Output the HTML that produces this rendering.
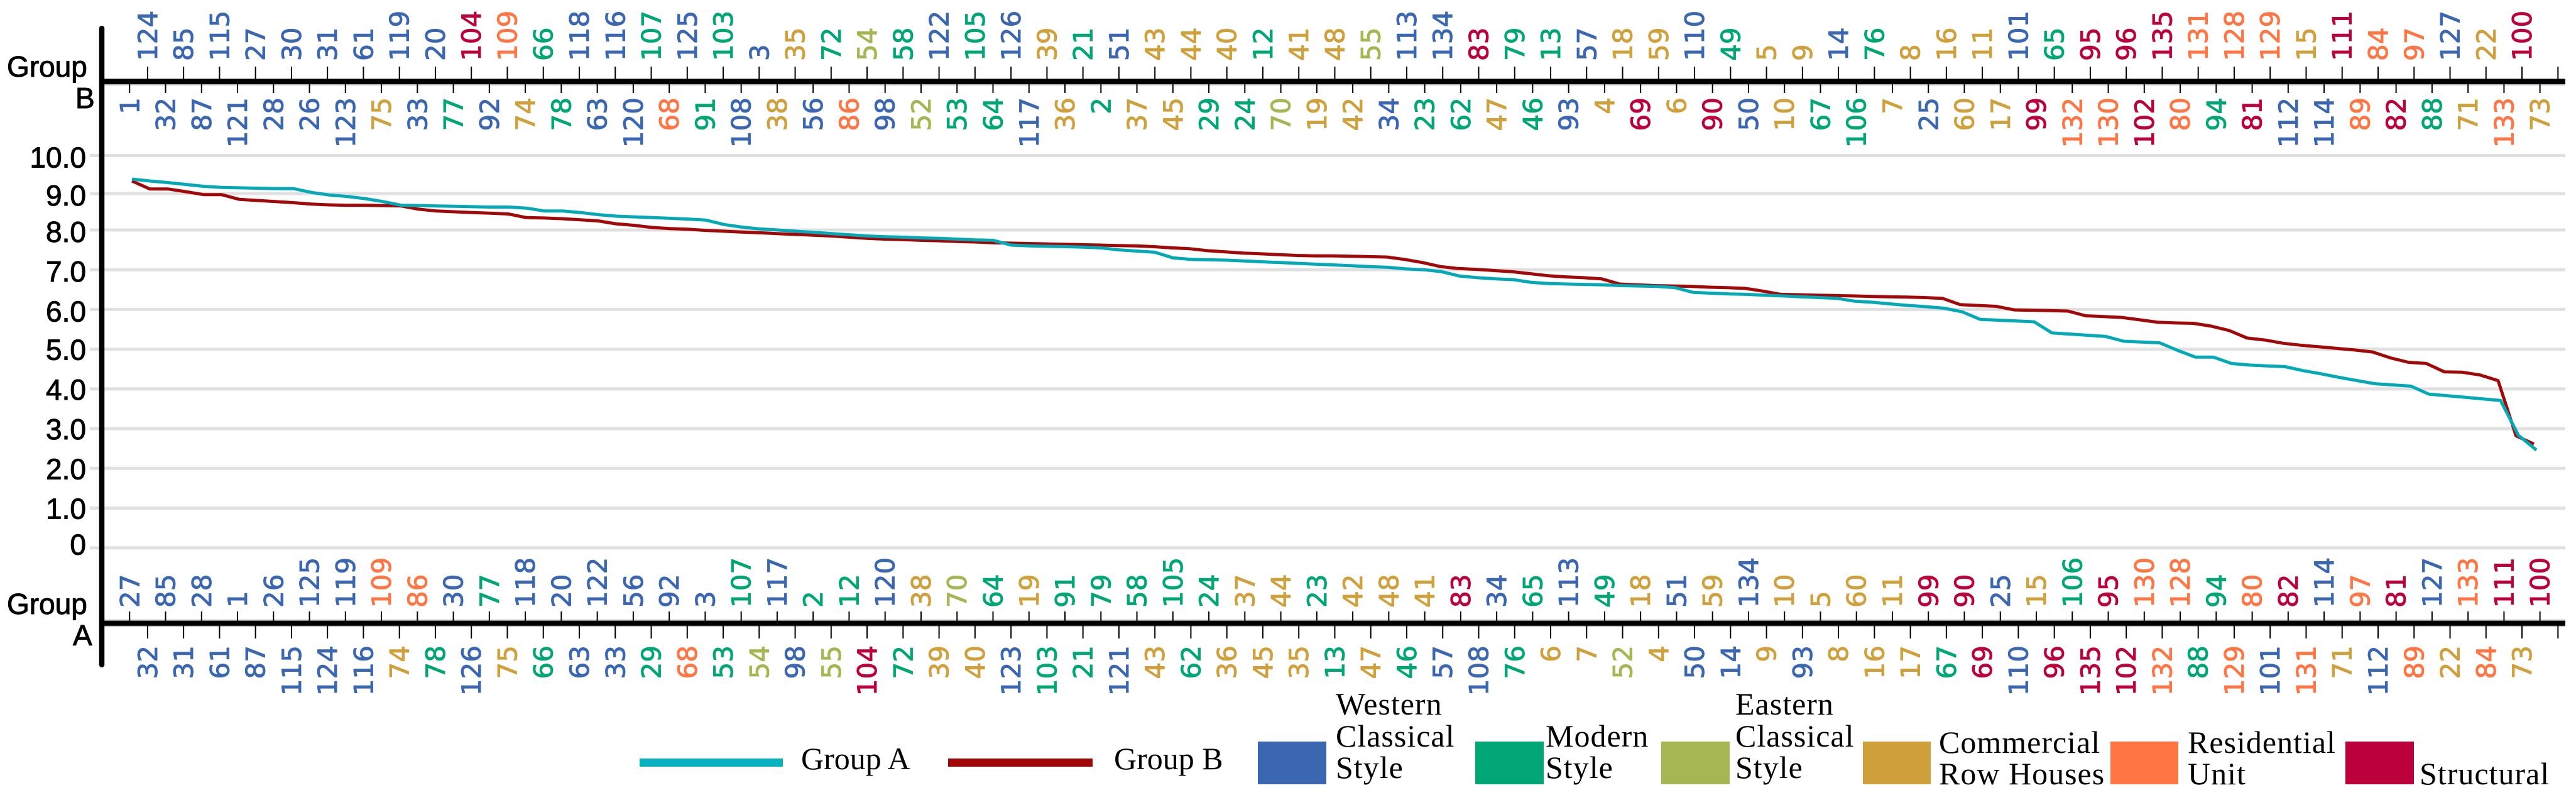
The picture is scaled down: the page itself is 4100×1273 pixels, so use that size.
<!DOCTYPE html>
<html lang="en">
<head>
<meta charset="utf-8">
<title>Group A and Group B ranked scores</title>
<style>
html,body{margin:0;padding:0;background:#fff;width:4100px;height:1273px;overflow:hidden}
svg{display:block}
.axis-text{font-family:"Liberation Sans",sans-serif;font-size:46px;fill:#000;stroke:#000;stroke-width:1px}
.legend-text{font-family:"Liberation Serif",serif;font-size:50px;fill:#000}
.cat-label{font-family:"DejaVu Sans",sans-serif;font-size:42px;stroke-width:.9px}
</style>
</head>
<body>
<svg id="chart" width="4100" height="1273" viewBox="0 0 4100 1273" xmlns="http://www.w3.org/2000/svg">
  <rect x="0" y="0" width="4100" height="1273" fill="#fff"/>
  <g id="grid"></g>
  <g id="ytick-labels"></g>
  <g id="top-axis"></g>
  <g id="bottom-axis"></g>
  <g id="series"></g>
  <rect x="157" y="41" width="10" height="1021" rx="5" fill="#000" fill-opacity="0.25"/>
  <rect x="158" y="41" width="8" height="1021" rx="4" fill="#000"/>
  <text class="axis-text" x="11" y="122">Group</text>
  <text class="axis-text" x="120" y="172">B</text>
  <text class="axis-text" x="11" y="977">Group</text>
  <text class="axis-text" x="116" y="1027">A</text>
  <g>
    <rect x="1018" y="1207" width="228" height="13" fill="#05b2be"/>
    <text class="legend-text" x="1275" y="1224">Group A</text>
    <rect x="1509" y="1207" width="230" height="13" fill="#a00606"/>
    <text class="legend-text" x="1773" y="1224">Group B</text>
    <rect x="2002" y="1180" width="109" height="68" fill="#3b67b2"/>
    <text class="legend-text" letter-spacing="1"><tspan x="2126" y="1137">Western</tspan><tspan x="2126" y="1188">Classical</tspan><tspan x="2126" y="1238">Style</tspan></text>
    <rect x="2348" y="1180" width="109" height="68" fill="#00a676"/>
    <text class="legend-text" letter-spacing="1"><tspan x="2460" y="1188">Modern</tspan><tspan x="2460" y="1238">Style</tspan></text>
    <rect x="2644" y="1180" width="109" height="68" fill="#a6b652"/>
    <text class="legend-text" letter-spacing="1"><tspan x="2762" y="1137">Eastern</tspan><tspan x="2762" y="1188">Classical</tspan><tspan x="2762" y="1238">Style</tspan></text>
    <rect x="2965" y="1180" width="108" height="68" fill="#cfa03b"/>
    <text class="legend-text" letter-spacing="1"><tspan x="3086" y="1198">Commercial</tspan><tspan x="3086" y="1248">Row Houses</tspan></text>
    <rect x="3359" y="1180" width="108" height="68" fill="#ff7543"/>
    <text class="legend-text" letter-spacing="1"><tspan x="3482" y="1198">Residential</tspan><tspan x="3482" y="1248">Unit</tspan></text>
    <rect x="3733" y="1180" width="109" height="68" fill="#bc003c"/>
    <text class="legend-text" letter-spacing="1" x="3851" y="1248">Structural</text>
  </g>
</svg>
<script>
// Chart data
const orderB = [1,124,32,85,87,115,121,27,28,30,26,31,123,61,75,119,33,20,77,104,92,109,74,66,78,118,63,116,120,107,68,125,91,103,108,3,38,35,56,72,86,54,98,58,52,122,53,105,64,126,117,39,36,21,2,51,37,43,45,44,29,40,24,12,70,41,19,48,42,55,34,113,23,134,62,83,47,79,46,13,93,57,4,18,69,59,6,110,90,49,50,5,10,9,67,14,106,76,7,8,25,16,60,11,17,101,99,65,132,95,130,96,102,135,80,131,94,128,81,129,112,15,114,111,89,84,82,97,88,127,71,22,133,100,73];
const orderA = [27,32,85,31,28,61,1,87,26,115,125,124,119,116,109,74,86,78,30,126,77,75,118,66,20,63,122,33,56,29,92,68,3,53,107,54,117,98,2,55,12,104,120,72,38,39,70,40,64,123,19,103,91,21,79,121,58,43,105,62,24,36,37,45,44,35,23,13,42,47,48,46,41,57,83,108,34,76,65,6,113,7,49,52,18,4,51,50,59,14,134,9,10,93,5,8,60,16,11,17,99,67,90,69,25,110,15,96,106,135,95,102,130,132,128,88,94,129,80,101,82,131,114,71,97,112,81,89,127,22,133,84,111,73,100];
const valuesA = [9.38,9.33,9.29,9.24,9.19,9.16,9.15,9.14,9.13,9.13,9.03,8.96,8.92,8.86,8.78,8.68,8.67,8.66,8.65,8.64,8.63,8.63,8.60,8.52,8.52,8.48,8.42,8.38,8.36,8.34,8.32,8.30,8.27,8.15,8.08,8.03,8.00,7.97,7.94,7.91,7.88,7.85,7.83,7.82,7.80,7.79,7.77,7.75,7.74,7.62,7.60,7.59,7.58,7.57,7.55,7.50,7.47,7.44,7.30,7.26,7.25,7.24,7.22,7.20,7.18,7.16,7.14,7.12,7.10,7.08,7.06,7.02,7.00,6.95,6.84,6.80,6.77,6.75,6.68,6.65,6.64,6.63,6.62,6.60,6.59,6.58,6.55,6.43,6.41,6.39,6.38,6.36,6.34,6.32,6.30,6.28,6.21,6.18,6.14,6.10,6.07,6.03,5.94,5.75,5.73,5.71,5.69,5.41,5.38,5.35,5.32,5.20,5.18,5.16,4.97,4.80,4.80,4.64,4.60,4.58,4.56,4.46,4.38,4.29,4.21,4.13,4.10,4.07,3.87,3.83,3.79,3.75,3.71,2.83,2.46];
const valuesB = [9.33,9.12,9.12,9.05,8.97,8.97,8.84,8.81,8.78,8.75,8.71,8.69,8.68,8.68,8.67,8.66,8.57,8.52,8.50,8.48,8.46,8.44,8.34,8.33,8.31,8.28,8.25,8.17,8.13,8.07,8.04,8.02,7.99,7.97,7.95,7.93,7.91,7.89,7.87,7.85,7.82,7.79,7.77,7.76,7.74,7.73,7.71,7.70,7.68,7.67,7.66,7.65,7.64,7.63,7.62,7.61,7.60,7.58,7.55,7.53,7.48,7.45,7.42,7.40,7.38,7.36,7.35,7.35,7.34,7.33,7.32,7.26,7.18,7.08,7.03,7.01,6.98,6.95,6.90,6.85,6.82,6.80,6.77,6.64,6.62,6.60,6.59,6.58,6.56,6.55,6.53,6.46,6.38,6.37,6.36,6.35,6.34,6.33,6.32,6.31,6.30,6.28,6.12,6.10,6.08,5.99,5.98,5.97,5.96,5.84,5.82,5.80,5.74,5.68,5.66,5.65,5.58,5.47,5.28,5.23,5.15,5.10,5.06,5.02,4.98,4.93,4.78,4.67,4.64,4.43,4.42,4.35,4.21,2.82,2.61];
const yTickValues = [0,1,2,3,4,5,6,7,8,9,10];
const yTickLabels = ["0","1.0","2.0","3.0","4.0","5.0","6.0","7.0","8.0","9.0","10.0"];
const westernIds = [1,3,14,20,25,26,27,28,30,31,32,33,34,50,51,56,57,61,63,85,87,92,93,98,101,108,110,112,113,114,115,116,117,118,119,120,121,122,123,124,125,126,127,134];
const modernIds = [2,12,13,21,23,24,29,46,49,53,58,62,64,65,66,67,72,76,77,78,79,88,91,94,103,105,106,107];
const easternIds = [52,54,55,70];
const commercialIds = [4,5,6,7,8,9,10,11,15,16,17,18,19,22,35,36,37,38,39,40,41,42,43,44,45,47,48,59,60,71,73,74,75];
const residentialIds = [68,80,84,86,89,97,109,128,129,130,131,132,133];
const structuralIds = [69,81,82,83,90,95,96,99,100,102,104,111,135];

const NS = "http://www.w3.org/2000/svg";

// Axis functions
function xTick(i){ return 206.25 + 28.63 * i; }
function xLineA(i){ return 210 + 28.56 * i; }
function xLineB(i){ return 210 + 28.53 * i; }
function yScale(v){
  if (v <= 8) return 871.7 - (871.7 - 366) * v / 8;
  if (v <= 9) return 366 - 58 * (v - 8);
  return 308 - 60.5 * (v - 9);
}
function yLabelOffset(v){
  if (v === 0) return 11;
  return v < 6 ? 17 : 19;
}
function colorOf(id){
  if (westernIds.includes(id)) return "#3b67b2";
  if (modernIds.includes(id)) return "#00a676";
  if (easternIds.includes(id)) return "#a6b652";
  if (commercialIds.includes(id)) return "#cfa03b";
  if (residentialIds.includes(id)) return "#ff7543";
  if (structuralIds.includes(id)) return "#bc003c";
  return "#000";
}
function mk(tag, attrs, parent){
  const el = document.createElementNS(NS, tag);
  for (const k in attrs) el.setAttribute(k, attrs[k]);
  parent.appendChild(el);
  return el;
}

// Gridlines and y tick labels
const gridG = document.getElementById("grid");
const yLabG = document.getElementById("ytick-labels");
yTickValues.forEach(function(v, i){
  const g = mk("line", {x1:143, x2:4083, y1:yScale(v), y2:yScale(v), stroke:"#e0e0e0", "stroke-width":5}, gridG);
  
  
  const t = mk("text", {x:137, y:yScale(v) + yLabelOffset(v), "text-anchor":"end", "class":"axis-text"}, yLabG);
  t.textContent = yTickLabels[i];
  
  
});

// Double-sided category axis
function drawAxis(groupId, order, axisY, firstBelow, aboveTop, belowBottom, aboveAnchorY, belowAnchorY){
  const g = document.getElementById(groupId);
  const halo = mk("line", {x1:158, x2:4083, y1:axisY, y2:axisY, stroke:"#000", "stroke-opacity":0.25, "stroke-width":12}, g);
  
  
  const axis = mk("line", {x1:158, x2:4083, y1:axisY, y2:axisY, stroke:"#000", "stroke-width":8}, g);
  
  
  for (let i = 0; i <= order.length; i++){
    const below = (i % 2 === 0) === firstBelow;
    const x = xTick(i);
    const tick = mk("line", {x1:x, x2:x, y1:axisY, y2: below ? belowBottom : aboveTop, stroke:"#000", "stroke-width":2}, g);
    
    
    if (i === order.length) continue;
    const id = order[i];
    const y = below ? belowAnchorY : aboveAnchorY;
    const t = mk("text", {transform:"translate(" + x + "," + y + ") rotate(-90)", dy:15, "text-anchor": below ? "end" : "start", fill:colorOf(id), stroke:colorOf(id), "class":"cat-label"}, g);
    t.textContent = String(id);
    
    
  }
}
drawAxis("top-axis", orderB, 130, true, 106, 148, 97, 155);
drawAxis("bottom-axis", orderA, 991.7, false, 973, 1016, 967, 1027);

// Series lines
function linePath(values, xFn){
  return values.map(function(v, i){ return (i ? "L" : "M") + xFn(i).toFixed(1) + " " + yScale(v).toFixed(1); }).join("");
}
const seriesG = document.getElementById("series");
const lineB = mk("path", {d:linePath(valuesB, xLineB), fill:"none", stroke:"#a30808", "stroke-width":5, "stroke-linejoin":"round"}, seriesG);


const lineA = mk("path", {d:linePath(valuesA, xLineA), fill:"none", stroke:"#03a9b7", "stroke-width":5, "stroke-linejoin":"round"}, seriesG);


</script>
</body>
</html>
